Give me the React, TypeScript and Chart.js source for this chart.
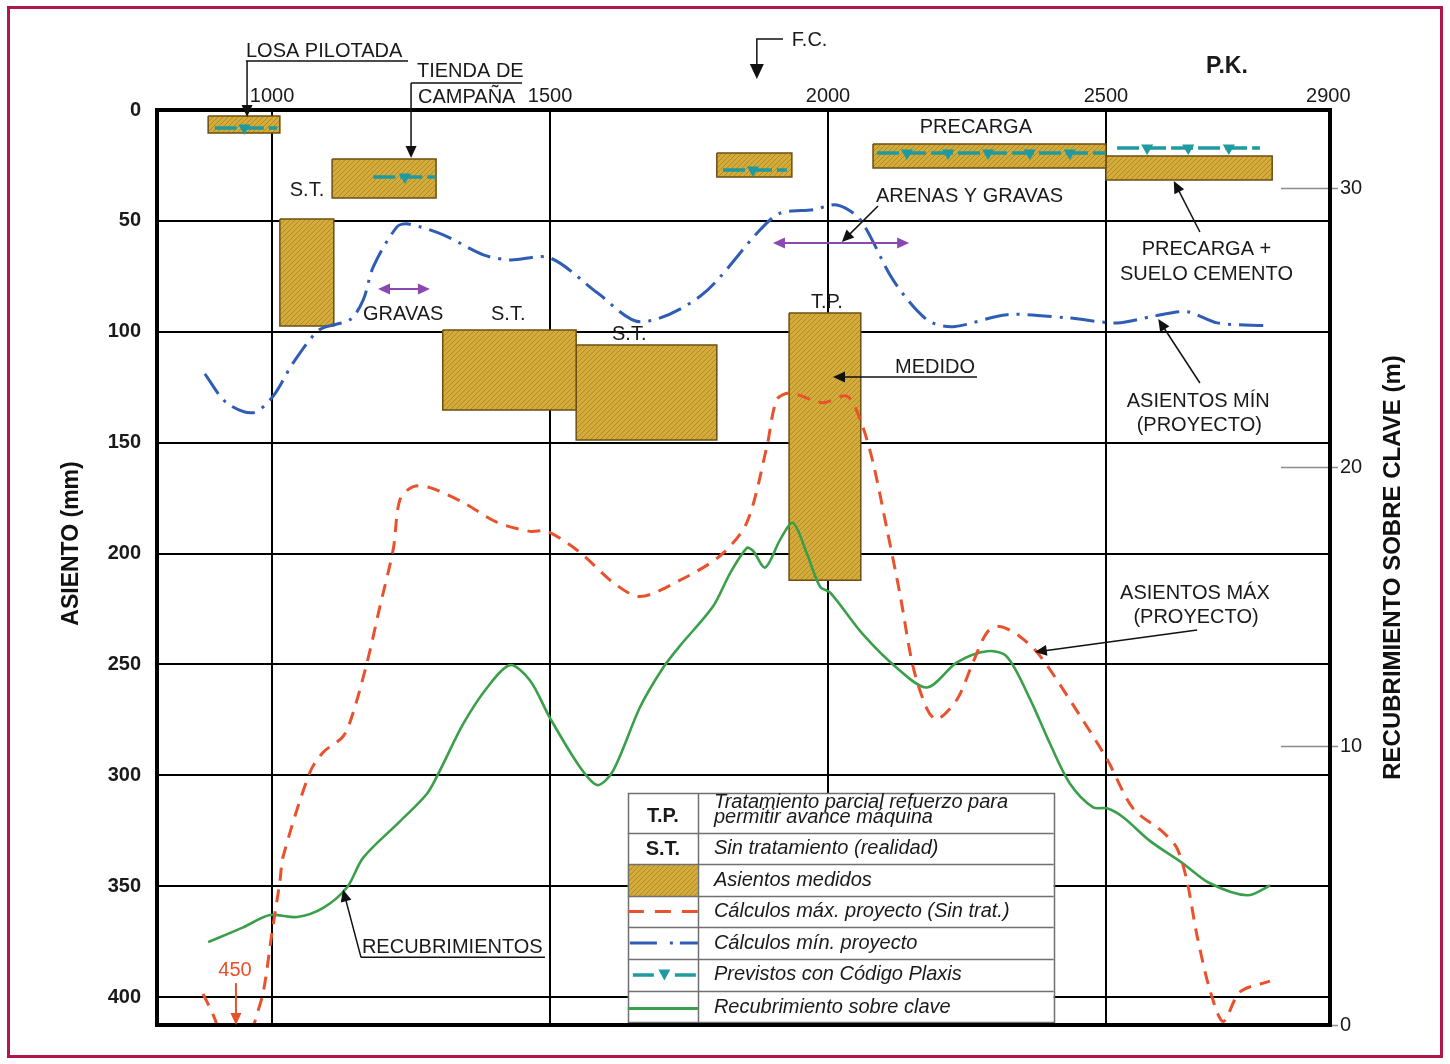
import React, { useEffect, useRef } from "react";
import { Chart, registerables } from "chart.js";

Chart.register(...registerables);

const FONT = "'Liberation Sans', Arial, Helvetica, sans-serif";

// ---- Axes ----
const pkMin = 793;
const pkMax = 2903;
const pkTicks = [1000, 1500, 2000, 2500, 2900];
const asientoMax = 412.6;
const asientoTicks = [0, 50, 100, 150, 200, 250, 300, 350, 400];
const recubMax = 32.8;
const recubTicks = [0, 10, 20, 30];

// ---- Cálculos máx. proyecto (Sin trat.) [mm] ----
const maxPk = [876, 900, 935, 968, 984, 1000, 1014, 1020, 1068, 1092, 1128, 1146, 1171, 1194, 1218, 1230, 1254, 1284, 1344, 1405, 1464, 1495, 1554, 1613, 1662, 1734, 1806, 1854, 1890, 1908, 1932, 1991, 2034, 2058, 2081, 2106, 2130, 2153, 2178, 2196, 2232, 2261, 2286, 2309, 2345, 2381, 2453, 2502, 2549, 2603, 2628, 2646, 2664, 2688, 2711, 2741, 2795];
const maxMm = [398.6, 412, 450, 412, 398, 370.7, 348, 336.5, 298.7, 289.6, 282.4, 271.6, 249, 223.9, 198, 175.7, 169.8, 170.3, 177, 186, 190, 190, 199.5, 213, 219.4, 212, 201, 186, 151.8, 130.6, 127.6, 132, 129, 139.6, 159, 189, 219, 251, 270, 274.8, 265.8, 249, 235.6, 232.9, 237.4, 246, 273, 292.8, 315, 325.7, 333, 348, 372.5, 397.7, 411, 397.7, 392.8];

// ---- Cálculos mín. proyecto [mm] ----
const minPk = [879, 918, 966, 1002, 1038, 1086, 1140, 1164, 1182, 1225, 1245, 1308, 1380, 1428, 1500, 1585, 1662, 1770, 1878, 1914, 1973, 2016, 2058, 2117, 2178, 2225, 2322, 2430, 2520, 2585, 2646, 2700, 2790];
const minMm = [119, 132, 136.5, 129, 114, 99, 94.6, 85.6, 70.7, 52.6, 51.4, 56.3, 65.3, 67.6, 66.7, 82.4, 95.5, 84, 54, 46.5, 45, 42.8, 49.5, 76.6, 94.6, 97.7, 92.3, 93.7, 96, 93, 91, 96, 97.3];

// ---- Recubrimiento sobre clave [m] ----
const recPk = [885, 948, 996, 1045, 1092, 1135, 1164, 1230, 1279, 1302, 1344, 1387, 1428, 1464, 1500, 1554, 1585, 1613, 1662, 1703, 1734, 1793, 1824, 1854, 1865, 1887, 1914, 1937, 1962, 1986, 2004, 2063, 2124, 2178, 2232, 2286, 2322, 2363, 2399, 2435, 2477, 2502, 2531, 2579, 2638, 2687, 2754, 2795];
const recM = [2.97, 3.5, 3.94, 3.87, 4.2, 4.94, 6.0, 7.3, 8.3, 9.13, 10.8, 12.1, 12.9, 12.35, 11.0, 9.24, 8.6, 9.1, 11.4, 12.8, 13.6, 15.0, 16.2, 17.1, 17.0, 16.4, 17.4, 18.0, 16.9, 15.7, 15.5, 14.0, 12.8, 12.1, 13.0, 13.4, 13.2, 11.7, 10.1, 8.66, 7.8, 7.77, 7.45, 6.6, 5.8, 5.08, 4.65, 5.0];

// ---- Asientos medidos (ranges) ----
const boxPkStart = [885, 1108, 1014, 1307, 1547, 1930, 1800, 2081, 2500];
const boxPkEnd = [1014, 1295, 1111, 1547, 1800, 2059, 1935, 2500, 2799];
const boxTopMm = [2.7, 22.1, 49.2, 99.2, 106, 91.5, 19.4, 15.3, 20.7];
const boxBottomMm = [10.4, 39.7, 97.4, 135.3, 148.8, 212, 30.2, 26.2, 31.6];

// ---- Previstos con Código Plaxis ----
const plaxisMm = [8.1, 30.2, 27.1, 19.4, 17.1];
const plaxisFrom = [897, 1182, 1811, 2088, 2520];
const plaxisTo = [1009, 1295, 1926, 2500, 2777];
const plaxisMarks = [[950], [1239], [1865], [2142, 2216, 2288, 2363, 2435], [2574, 2648, 2721]];

// ---- Annotations (anchored in P.K. / mm) ----
const labels = [
  { t: "LOSA PILOTADA", pk: 953, mm: -23.9, a: "left" },
  { t: "TIENDA DE", pk: 1260.7, mm: -14.9, a: "left" },
  { t: "CAMPAÑA", pk: 1262.5, mm: -3.2, a: "left" },
  { t: "F.C.", pk: 1935, mm: -28.9, a: "left" },
  { t: "P.K.", pk: 2717.7, mm: -16.7, a: "center", bold: true, size: 23 },
  { t: "PRECARGA", pk: 2266, mm: 10.4, a: "center" },
  { t: "S.T.", pk: 1062.8, mm: 38.8, a: "center" },
  { t: "ARENAS Y GRAVAS", pk: 2086.3, mm: 41.5, a: "left" },
  { t: "GRAVAS", pk: 1163.6, mm: 94.7, a: "left" },
  { t: "S.T.", pk: 1393.8, mm: 94.7, a: "left" },
  { t: "S.T.", pk: 1611.5, mm: 103.7, a: "left" },
  { t: "T.P.", pk: 1969.4, mm: 89.3, a: "left" },
  { t: "MEDIDO", pk: 2120.5, mm: 118.6, a: "left" },
  { t: "PRECARGA +", pk: 2680.8, mm: 65.4, a: "center" },
  { t: "SUELO CEMENTO", pk: 2680.8, mm: 76.7, a: "center" },
  { t: "ASIENTOS MÍN", pk: 2666, mm: 133.9, a: "center" },
  { t: "(PROYECTO)", pk: 2667.8, mm: 144.6, a: "center" },
  { t: "ASIENTOS MÁX", pk: 2660, mm: 220.5, a: "center" },
  { t: "(PROYECTO)", pk: 2662, mm: 231.3, a: "center" },
  { t: "RECUBRIMIENTOS", pk: 1161.6, mm: 380.2, a: "left" },
  { t: "450", pk: 933.3, mm: 390.5, a: "center", color: "#E8502A" },
];

const leaders = [
  { pts: [[953, -22.1], [1244.5, -22.1]], head: "none" },
  { pts: [[955, -22.1], [955, 3.2]], head: "end" },
  { pts: [[1250, -12.2], [1449.6, -12.2]], head: "none" },
  { pts: [[1250, -12.2], [1250, 21.6]], head: "end" },
  { pts: [[1919, -32], [1872, -32], [1872, -14]], head: "end", big: true },
  { pts: [[2090, 43.3], [2025, 59.5]], head: "end" },
  { pts: [[1901, 60], [2146, 60]], head: "both", color: "#8B47B2" },
  { pts: [[1190.5, 80.7], [1284, 80.7]], head: "both", color: "#8B47B2" },
  { pts: [[2268, 120.4], [2009, 120.4]], head: "end" },
  { pts: [[2669, 55], [2622, 32]], head: "end" },
  { pts: [[2669, 123.1], [2594, 94.3]], head: "end" },
  { pts: [[2664, 234.5], [2372, 244.4]], head: "end" },
  { pts: [[1160, 382.1], [1491, 382.1]], head: "none" },
  { pts: [[1160, 382.1], [1127.6, 351.5]], head: "end" },
  { pts: [[935, 393.7], [935, 412.6]], head: "end", color: "#E8502A" },
];

// legend table frame (P.K. columns, mm rows)
const legendCols = [1640, 1766, 2406];
const legendRows = [308.0, 326.1, 340.0, 354.5, 368.4, 382.9, 397.3, 411.3];

const RED = "#E9522C";
const BLUE = "#2F5DB5";
const GREEN = "#3A9F4B";
const TEAL = "#1E9AA0";
const BOXLINE = "#6E4D12";

function makeHatch(): any {
  const c = document.createElement("canvas");
  c.width = 5;
  c.height = 5;
  const g = c.getContext("2d")!;
  g.fillStyle = "#D4AC3C";
  g.fillRect(0, 0, 5, 5);
  g.strokeStyle = "#AE8622";
  g.lineWidth = 0.9;
  g.beginPath();
  g.moveTo(0, 5);
  g.lineTo(5, 0);
  g.moveTo(-1, 1);
  g.lineTo(1, -1);
  g.moveTo(4, 6);
  g.lineTo(6, 4);
  g.stroke();
  return g.createPattern(c, "repeat");
}

function arrowHead(ctx: any, x1: number, y1: number, x2: number, y2: number, len: number, half: number, color: string) {
  const a = Math.atan2(y2 - y1, x2 - x1);
  ctx.fillStyle = color;
  ctx.beginPath();
  ctx.moveTo(x2, y2);
  ctx.lineTo(x2 - len * Math.cos(a) + half * Math.sin(a), y2 - len * Math.sin(a) - half * Math.cos(a));
  ctx.lineTo(x2 - len * Math.cos(a) - half * Math.sin(a), y2 - len * Math.sin(a) + half * Math.cos(a));
  ctx.closePath();
  ctx.fill();
}

function downTriangle(ctx: any, x: number, y: number, w: number, h: number, color: string) {
  ctx.fillStyle = color;
  ctx.beginPath();
  ctx.moveTo(x - w / 2, y - h / 2);
  ctx.lineTo(x + w / 2, y - h / 2);
  ctx.lineTo(x, y + h / 2);
  ctx.closePath();
  ctx.fill();
}

function makeOverlay(hatch: any) {
  return {
    id: "overlay",
    beforeDraw(chart: any) {
      const ctx = chart.ctx;
      ctx.save();
      ctx.fillStyle = "#ffffff";
      ctx.fillRect(0, 0, chart.width, chart.height);
      ctx.restore();
    },
    afterDatasetsDraw(chart: any) {
      const ctx = chart.ctx;
      const ca = chart.chartArea;
      const sx = chart.scales.x;
      const sy = chart.scales.y;
      const sr = chart.scales.yR;
      const X = (v: number) => sx.getPixelForValue(v);
      const Y = (v: number) => sy.getPixelForValue(v);
      ctx.save();

      // right-axis inner tick marks
      ctx.strokeStyle = "#8c8c8c";
      ctx.lineWidth = 1.5;
      for (const v of recubTicks) {
        const yy = Math.round(sr.getPixelForValue(v)) + 0.5;
        ctx.beginPath();
        ctx.moveTo(ca.right - 49, yy);
        ctx.lineTo(ca.right + 8, yy);
        ctx.stroke();
      }

      // legend table
      const tl = X(legendCols[0]);
      const tc = X(legendCols[1]);
      const tr = X(legendCols[2]);
      const rows = legendRows.map(Y);
      ctx.fillStyle = "#ffffff";
      ctx.fillRect(tl, rows[0], tr - tl, rows[7] - rows[0]);
      ctx.fillStyle = hatch;
      ctx.fillRect(tl, rows[2], tc - tl, rows[3] - rows[2]);
      ctx.strokeStyle = "#707070";
      ctx.lineWidth = 1.5;
      for (let i = 1; i < 7; i++) {
        ctx.beginPath();
        ctx.moveTo(tl, Math.round(rows[i]) + 0.5);
        ctx.lineTo(tr, Math.round(rows[i]) + 0.5);
        ctx.stroke();
      }
      ctx.beginPath();
      ctx.moveTo(Math.round(tc) + 0.5, rows[0]);
      ctx.lineTo(Math.round(tc) + 0.5, rows[7]);
      ctx.stroke();
      ctx.strokeRect(Math.round(tl) + 0.5, Math.round(rows[0]) + 0.5, Math.round(tr - tl), Math.round(rows[7] - rows[0]));

      const midRow = (i: number) => (rows[i] + rows[i + 1]) / 2;
      // swatches
      ctx.lineWidth = 3;
      ctx.strokeStyle = RED;
      ctx.setLineDash([16, 11]);
      ctx.beginPath();
      ctx.moveTo(tl, midRow(3));
      ctx.lineTo(tc, midRow(3));
      ctx.stroke();
      ctx.setLineDash([]);
      ctx.strokeStyle = BLUE;
      ctx.beginPath();
      ctx.moveTo(tl + 2, midRow(4)); ctx.lineTo(tl + 29, midRow(4));
      ctx.moveTo(tl + 42, midRow(4)); ctx.lineTo(tl + 45, midRow(4));
      ctx.moveTo(tl + 52, midRow(4)); ctx.lineTo(tc, midRow(4));
      ctx.stroke();
      ctx.strokeStyle = TEAL;
      ctx.lineWidth = 3.5;
      ctx.beginPath();
      ctx.moveTo(tl + 5, midRow(5)); ctx.lineTo(tl + 26, midRow(5));
      ctx.moveTo(tl + 47, midRow(5)); ctx.lineTo(tl + 68, midRow(5));
      ctx.stroke();
      downTriangle(ctx, tl + 36.5, midRow(5), 12, 11, TEAL);
      ctx.strokeStyle = GREEN;
      ctx.lineWidth = 3;
      ctx.beginPath();
      ctx.moveTo(tl, midRow(6) + 2);
      ctx.lineTo(tc, midRow(6) + 2);
      ctx.stroke();

      ctx.fillStyle = "#1a1a1a";
      ctx.textBaseline = "alphabetic";
      ctx.textAlign = "center";
      ctx.font = `bold 20px ${FONT}`;
      ctx.fillText("T.P.", (tl + tc) / 2, rows[0] + 29);
      ctx.fillText("S.T.", (tl + tc) / 2, rows[1] + 22);
      ctx.textAlign = "left";
      ctx.font = `italic 20px ${FONT}`;
      const lx = tc + 16;
      ctx.fillText("Tratamiento parcial refuerzo para", lx, rows[0] + 15);
      ctx.fillText("permitir avance máquina", lx, rows[0] + 30);
      ctx.fillText("Sin tratamiento (realidad)", lx, rows[1] + 21);
      ctx.fillText("Asientos medidos", lx, rows[2] + 22);
      ctx.fillText("Cálculos máx. proyecto (Sin trat.)", lx, rows[3] + 21);
      ctx.fillText("Cálculos mín. proyecto", lx, rows[4] + 22);
      ctx.fillText("Previstos con Código Plaxis", lx, rows[5] + 21);
      ctx.fillText("Recubrimiento sobre clave", lx, rows[6] + 22);

      // plot frame
      ctx.strokeStyle = "#000";
      ctx.lineWidth = 4;
      ctx.strokeRect(ca.left, ca.top, ca.right - ca.left, ca.bottom - ca.top);

      // leaders and arrows
      for (const L of leaders) {
        const col = (L as any).color || "#111";
        const p = L.pts.map((q) => [X(q[0]), Y(q[1])]);
        ctx.strokeStyle = col;
        ctx.lineWidth = (L as any).color ? 2 : 1.5;
        const len = (L as any).big ? 15 : 12;
        const half = (L as any).big ? 7 : 5.5;
        const n = p.length;
        const pts = p.map((q) => [q[0], q[1]]);
        const shorten = (a: number[], b: number[]) => {
          const d = Math.hypot(b[0] - a[0], b[1] - a[1]);
          return [b[0] - ((b[0] - a[0]) / d) * (len - 2), b[1] - ((b[1] - a[1]) / d) * (len - 2)];
        };
        if (L.head === "end" || L.head === "both") pts[n - 1] = shorten(p[n - 2], p[n - 1]);
        if (L.head === "both") pts[0] = shorten(p[1], p[0]);
        ctx.beginPath();
        ctx.moveTo(pts[0][0], pts[0][1]);
        for (let i = 1; i < n; i++) ctx.lineTo(pts[i][0], pts[i][1]);
        ctx.stroke();
        if (L.head === "end" || L.head === "both") arrowHead(ctx, p[n - 2][0], p[n - 2][1], p[n - 1][0], p[n - 1][1], len, half, col);
        if (L.head === "both") arrowHead(ctx, p[1][0], p[1][1], p[0][0], p[0][1], len, half, col);
      }

      // labels
      ctx.textBaseline = "alphabetic";
      for (const l of labels) {
        const lb: any = l;
        ctx.font = `${lb.bold ? "bold " : ""}${lb.size || 20}px ${FONT}`;
        ctx.fillStyle = lb.color || "#1a1a1a";
        ctx.textAlign = lb.a;
        ctx.fillText(lb.t, X(lb.pk), Y(lb.mm));
      }

      // axis titles
      ctx.fillStyle = "#111";
      ctx.textAlign = "center";
      ctx.textBaseline = "middle";
      ctx.font = `bold 23px ${FONT}`;
      ctx.save();
      ctx.translate(ca.left - 85, (ca.top + ca.bottom) / 2 - 24);
      ctx.rotate(-Math.PI / 2);
      ctx.fillText("ASIENTO (mm)", 0, 0);
      ctx.restore();
      ctx.font = `bold 24px ${FONT}`;
      ctx.save();
      ctx.translate(ca.right + 63, (ca.top + ca.bottom) / 2);
      ctx.rotate(-Math.PI / 2);
      ctx.fillText("RECUBRIMIENTO SOBRE CLAVE (m)", 0, 0);
      ctx.restore();

      // page frame
      ctx.strokeStyle = "#B3174A";
      ctx.lineWidth = 3;
      ctx.strokeRect(8.5, 7.5, 1433, 1049);
      ctx.restore();
    },
  };
}

export default function App() {
  const ref = useRef<HTMLCanvasElement>(null);
  useEffect(() => {
    const canvas = ref.current!;
    const hatch = makeHatch();

    const boxDatasets = boxPkStart.map((s, i) => ({
      type: "line",
      label: "Asientos medidos " + (i + 1),
      xAxisID: "x",
      yAxisID: "y",
      data: [
        { x: s, y: boxTopMm[i] },
        { x: boxPkEnd[i], y: boxTopMm[i] },
        { x: boxPkEnd[i], y: boxBottomMm[i] },
        { x: s, y: boxBottomMm[i] },
        { x: s, y: boxTopMm[i] },
      ],
      fill: "shape",
      backgroundColor: hatch,
      borderColor: BOXLINE,
      borderWidth: 1.5,
      borderJoinStyle: "miter",
      pointRadius: 0,
      tension: 0,
      order: 10,
    }));

    const plaxisLines = plaxisMm.map((lv, i) => ({
      type: "line",
      label: "Plaxis " + (i + 1),
      xAxisID: "x",
      yAxisID: "y",
      data: [
        { x: plaxisFrom[i], y: lv },
        { x: plaxisTo[i], y: lv },
      ],
      borderColor: TEAL,
      borderWidth: 3.5,
      borderDash: [22, 5],
      pointRadius: 0,
      fill: false,
      order: 3,
    }));

    const plaxisPoints = {
      type: "line",
      label: "Previstos con Código Plaxis",
      xAxisID: "x",
      yAxisID: "y",
      data: plaxisMarks.flatMap((arr, i) => arr.map((pk) => ({ x: pk, y: plaxisMm[i] }))),
      showLine: false,
      pointStyle: "triangle",
      pointRotation: 180,
      pointRadius: 7,
      pointBackgroundColor: TEAL,
      pointBorderColor: TEAL,
      pointBorderWidth: 0,
      order: 2,
    };

    const chart = new Chart(canvas, {
      type: "line",
      data: {
        datasets: [
          {
            label: "Cálculos máx. proyecto (Sin trat.)",
            xAxisID: "x",
            yAxisID: "y",
            data: maxPk.map((x, i) => ({ x, y: maxMm[i] })),
            borderColor: RED,
            borderWidth: 3,
            borderDash: [13, 9],
            pointRadius: 0,
            tension: 0.3,
            fill: false,
            order: 1,
          },
          {
            label: "Cálculos mín. proyecto",
            xAxisID: "x",
            yAxisID: "y",
            data: minPk.map((x, i) => ({ x, y: minMm[i] })),
            borderColor: BLUE,
            borderWidth: 3,
            borderDash: [24, 8, 3, 8],
            pointRadius: 0,
            tension: 0.3,
            fill: false,
            order: 1,
          },
          {
            label: "Recubrimiento sobre clave",
            xAxisID: "x",
            yAxisID: "yR",
            data: recPk.map((x, i) => ({ x, y: recM[i] })),
            borderColor: GREEN,
            borderWidth: 2.6,
            pointRadius: 0,
            tension: 0.3,
            fill: false,
            order: 1,
          },
          plaxisPoints,
          ...plaxisLines,
          ...boxDatasets,
        ] as any,
      },
      options: {
        responsive: false,
        animation: false,
        devicePixelRatio: 1,
        events: [],
        layout: { padding: { left: 0, right: 0, top: 0, bottom: 39 } },
        plugins: { legend: { display: false }, tooltip: { enabled: false } },
        scales: {
          x: {
            type: "linear",
            position: "top",
            min: pkMin,
            max: pkMax,
            afterBuildTicks: (s: any) => {
              s.ticks = pkTicks.map((v) => ({ value: v }));
            },
            afterFit: (s: any) => {
              s.height = 110;
            },
            grid: {
              color: (c: any) => (c.tick && c.tick.value === 2900 ? "rgba(0,0,0,0)" : "#000"),
              lineWidth: 2,
              drawTicks: false,
            },
            border: { display: false },
            ticks: {
              padding: 2,
              color: "#1a1a1a",
              font: { family: FONT, size: 20 },
              maxRotation: 0,
              autoSkip: false,
              callback: (v: any) => String(v),
            },
          },
          y: {
            type: "linear",
            position: "left",
            reverse: true,
            min: 0,
            max: asientoMax,
            afterBuildTicks: (s: any) => {
              s.ticks = asientoTicks.map((v) => ({ value: v }));
            },
            afterFit: (s: any) => {
              s.width = 157;
            },
            grid: { color: "#000", lineWidth: 2, drawTicks: false },
            border: { display: false },
            ticks: {
              padding: 16,
              color: "#1a1a1a",
              font: { family: FONT, size: 20, weight: "bold" },
              callback: (v: any) => String(v),
            },
          },
          yR: {
            type: "linear",
            position: "right",
            min: 0,
            max: recubMax,
            afterBuildTicks: (s: any) => {
              s.ticks = recubTicks.map((v) => ({ value: v }));
            },
            afterFit: (s: any) => {
              s.width = 120;
            },
            grid: { display: false, drawTicks: false },
            border: { display: false },
            ticks: {
              padding: 10,
              color: "#1a1a1a",
              font: { family: FONT, size: 20 },
              callback: (v: any) => String(v),
            },
          },
        },
      } as any,
      plugins: [makeOverlay(hatch)],
    });
    return () => chart.destroy();
  }, []);

  return (
    <div style={{ position: "fixed", left: 0, top: 0, width: 1450, height: 1064, overflow: "hidden", background: "#fff" }}>
      <canvas ref={ref} width={1450} height={1064} style={{ display: "block", width: 1450, height: 1064 }} />
    </div>
  );
}
